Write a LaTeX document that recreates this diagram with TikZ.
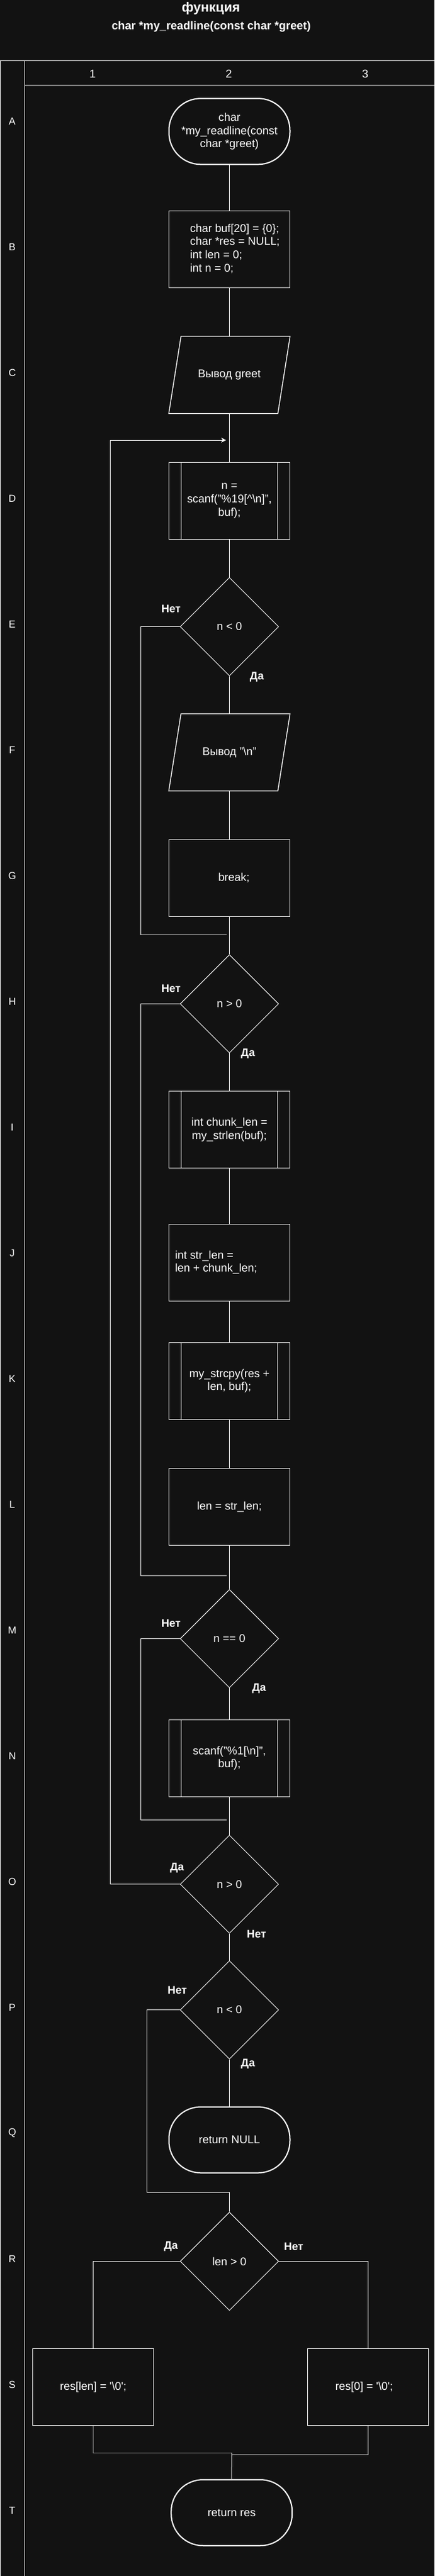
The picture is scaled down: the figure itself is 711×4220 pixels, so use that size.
\documentclass[tikz,border=0pt]{standalone}
\usepackage{fontspec}
\setmainfont{Liberation Sans}
\usetikzlibrary{shapes.geometric,arrows.meta}
\definecolor{bgc}{RGB}{18,18,18}
\definecolor{midgray}{RGB}{150,150,150}
\begin{document}
\begin{tikzpicture}[x=0.75pt,y=-0.75pt,
  every node/.style={text=white},
  nodefont/.style={font=\fontsize{13.8pt}{16.3pt}\selectfont},
  lbl/.style={font=\bfseries\fontsize{13.5pt}{16pt}\selectfont, inner sep=0pt},
  hdr/.style={font=\fontsize{13.9pt}{16pt}\selectfont, inner sep=0pt},
  rowlbl/.style={font=\fontsize{12.4pt}{15pt}\selectfont, inner sep=0pt},
  conn/.style={draw=white, line width=0.75pt},
  tbl/.style={draw=white, line width=1pt},
  box/.style={nodefont, draw=white, line width=1pt, minimum width=148.5pt, minimum height=94.5pt, inner sep=0pt},
  predef/.style={box, align=center, path picture={
      \draw[white, line width=1pt]
        ([xshift=15pt]path picture bounding box.north west) -- ([xshift=15pt]path picture bounding box.south west)
        ([xshift=-15pt]path picture bounding box.north east) -- ([xshift=-15pt]path picture bounding box.south east);}},
  io/.style={nodefont, minimum width=148.5pt, minimum height=94.5pt, inner sep=0pt, align=center},
  iopath/.style={draw=white, line width=1pt},
  terminal/.style={nodefont, draw=white, line width=1.5pt, rounded corners=39pt, minimum width=148.5pt, minimum height=81pt, inner sep=0pt, align=center},
  decision/.style={nodefont, diamond, aspect=1, draw=white, line width=0.7pt, minimum width=120.75pt, minimum height=120.75pt, inner sep=0pt},
  looptip/.style={-{Stealth[length=6pt,width=6pt]}}
]
\fill[bgc] (0,0) rectangle (711,4220);
\useasboundingbox (0,0) rectangle (711,4220);

% title
\node[font=\bfseries\fontsize{16.5pt}{19pt}\selectfont, inner sep=0pt] (title) at (345.3,13.5) {функция};
\node[font=\bfseries\fontsize{14pt}{17pt}\selectfont, inner sep=0pt] (subtitle) at (345.7,43.5) {char *my\_readline(const char *greet)};

% table frame
\draw[tbl] (0,99.3) -- (711,99.3);
\draw[tbl] (40.4,139.3) -- (711,139.3);
\draw[tbl] (0.8,99.3) -- (0.8,4220);
\draw[tbl] (40.4,99.3) -- (40.4,4220);

\node[hdr] (col1) at (151.5,120.7) {1};
\node[hdr] (col2) at (374.6,120.7) {2};
\node[hdr] (col3) at (597.7,120.7) {3};
\foreach \l [count=\i from 0] in {A,B,C,D,E,F,G,H,I,J,K,L,M,N,O,P,Q,R,S,T}
  \node[rowlbl] (row\l) at (20,199.3+205.95*\i) {\l};

% nodes
\node[terminal] (A) at (375.5,215.3) {char\\*my\_readline(const\\char *greet)};
\node[box] (B) at (375.5,408.3) {\hspace{13.5pt}\begin{tabular}{@{}l@{}}char buf[20] = \{0\};\\char *res = NULL;\\int len = 0;\\int n = 0;\end{tabular}};
\node[io] (C) at (375.5,614.3) {Вывод greet};
\draw[iopath] ([xshift=15pt]C.north west) -- (C.north east) -- ([xshift=-15pt]C.south east) -- (C.south west) -- cycle;
\node[predef] (D) at (375.5,820.3) {n =\\scanf("\%19[\textasciicircum\textbackslash n]",\\buf);};
\node[decision] (E) at (375.5,1026.6) {n < 0};
\node[io] (F) at (375.5,1232.5) {Вывод "\textbackslash n"};
\draw[iopath] ([xshift=15pt]F.north west) -- (F.north east) -- ([xshift=-15pt]F.south east) -- (F.south west) -- cycle;
\node[box] (G) at (375.5,1438.4) {\hspace{11pt}break;};
\node[decision] (H) at (375.5,1644.4) {n > 0};
\node[predef] (I) at (375.5,1850.6) {int chunk\_len =\\my\_strlen(buf);};
\node[box] (J) at (375.5,2068.7) {\begin{tabular}{@{}l@{}}int str\_len =\\len + chunk\_len;\end{tabular}\hspace{32.6pt}\null};
\node[predef] (K) at (375.5,2262.2) {my\_strcpy(res +\\len, buf);};
\node[box] (L) at (375.5,2468.3) {len = str\_len;};
\node[decision] (M) at (375.5,2684.4) {n == 0};
\node[predef] (N) at (375.5,2880.3) {scanf("\%1[\textbackslash n]",\\buf);};
\node[decision] (O) at (375.5,3086.7) {n > 0};
\node[decision] (P) at (375.5,3292.6) {n < 0};
\node[terminal] (Q) at (375.5,3505.5) {return NULL};
\node[decision] (R) at (375.5,3704.4) {len > 0};
\node[box] (S1) at (152.6,3910.3) {res[len] = \textquotesingle\textbackslash 0\textquotesingle;};
\node[box] (S2) at (602.5,3910.3) {res[0] = \textquotesingle\textbackslash 0\textquotesingle;\hspace{9.75pt}\null};
\node[terminal] (T) at (379.2,4116.2) {return res};

% helper coordinates
\coordinate (eNo) at (230.4,1531.2);
\coordinate (jEH) at (370.5,1531.2);
\coordinate (hNo) at (230.4,2581);
\coordinate (jHM) at (370.5,2581);
\coordinate (mNo) at (230.4,2981);
\coordinate (jMO) at (370.5,2981);
\coordinate (loopTop) at (180.5,721);
\coordinate (jLoop) at (370,721);
\coordinate (pNo) at (240.4,3591.4);
\coordinate (jPR) at (375.5,3591.4);
\coordinate (jS) at (379.3,4018);
\coordinate (jS2) at (380,4021.3);

% main flow
\draw[conn] (A.south) -- (B.north);
\draw[conn] (B.south) -- (C.north);
\draw[conn] (C.south) -- (D.north);
\draw[conn] (D.south) -- (E.north);
\draw[conn] (E.south) -- (F.north);
\draw[conn] (F.south) -- (G.north);
\draw[conn] (G.south) -- (H.north);
\draw[conn] (H.south) -- (I.north);
\draw[conn] (I.south) -- (J.north);
\draw[conn] (J.south) -- (K.north);
\draw[conn] (K.south) -- (L.north);
\draw[conn] (L.south) -- (M.north);
\draw[conn] (M.south) -- (N.north);
\draw[conn] (N.south) -- (O.north);
\draw[conn] (O.south) -- (P.north);
\draw[conn] (P.south) -- (Q.north);

% branches
\draw[conn] (E.west) -| (eNo) -- (jEH);
\draw[conn] (H.west) -| (hNo) -- (jHM);
\draw[conn] (M.west) -| (mNo) -- (jMO);
\draw[conn, looptip] (O.west) -| (loopTop) -- (jLoop);
\draw[conn] (P.west) -| (pNo) -- (jPR) -- (R.north);
\draw[conn] (R.west) -| (S1.north);
\draw[conn] (R.east) -| (S2.north);
\draw[conn, draw=midgray] (S1.south) |- (jS);
\draw[conn] (S2.south) |- (jS2);
\draw[conn] (jS) -- (T.north);

% labels
\node[lbl] (eN) at (279.8,997.3) {Нет};
\node[lbl] (eY) at (420.4,1108.7) {Да};
\node[lbl] (hN) at (279.8,1619.7) {Нет};
\node[lbl] (hY) at (405.9,1726.2) {Да};
\node[lbl] (mN) at (279.8,2659.4) {Нет};
\node[lbl] (mY) at (424,2766.3) {Да};
\node[lbl] (oY) at (289.8,3060.2) {Да};
\node[lbl] (oN) at (420,3168) {Нет};
\node[lbl] (pN) at (290.2,3260) {Нет};
\node[lbl] (pY) at (405.9,3380.7) {Да};
\node[lbl] (rY) at (279.8,3680) {Да};
\node[lbl] (rN) at (480.7,3680) {Нет};
\end{tikzpicture}
\end{document}
